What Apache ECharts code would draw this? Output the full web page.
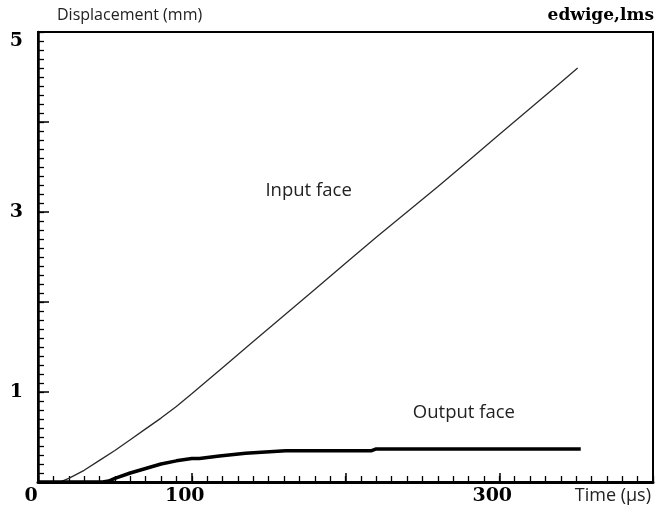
<!DOCTYPE html>
<html>
<head>
<meta charset="utf-8">
<script src="https://cdn.jsdelivr.net/npm/echarts@6/dist/echarts.min.js"></script>
<style>
  html, body { margin: 0; padding: 0; background: #fff; }
  #main { width: 656px; height: 512px; }
</style>
</head>
<body>
<div id="main"></div>
<script>
// time in µs
const timeInput = [0, 10, 15, 20, 30, 40, 50, 60, 70, 80, 90, 100, 120, 140, 160, 180, 200, 220, 240, 260, 280, 300, 320, 340, 351];
const dispInput = [0, 0, 0.005, 0.04, 0.13, 0.24, 0.35, 0.47, 0.59, 0.71, 0.84, 0.98, 1.27, 1.56, 1.85, 2.14, 2.43, 2.72, 3.0, 3.28, 3.57, 3.86, 4.15, 4.44, 4.6];

const timeOutput = [0, 42, 46, 50, 60, 70, 80, 90, 100, 105, 118, 135, 161, 217, 220, 353];
const dispOutput = [0, 0, 0.01, 0.04, 0.1, 0.15, 0.2, 0.235, 0.26, 0.26, 0.29, 0.32, 0.348, 0.348, 0.367, 0.367];

const xLabels = [0, 100, 300];
const yLabels = [1, 3, 5];

const serif = "'DejaVu Serif', serif";
const sans = "'Open Sans', 'Noto Sans', sans-serif";

const isIn = (list, v) => list.some((k) => Math.abs(k - v) < 1e-6);

const myChart = echarts.init(document.getElementById('main'));

// long ticks drawn by a second axis on the same side
const majorX = {
  type: 'value', min: 0, max: 400, interval: 100, position: 'bottom', offset: 0,
  axisLine: { show: false },
  axisTick: { show: true, inside: true, length: 9, lineStyle: { color: '#000', width: 1.5 } },
  axisLabel: { show: false },
  splitLine: { show: false }
};
const majorY = {
  type: 'value', min: 0, max: 5, interval: 1, position: 'left', offset: 0,
  axisLine: { show: false },
  axisTick: { show: true, inside: true, length: 11, lineStyle: { color: '#000', width: 1.5 } },
  axisLabel: { show: false },
  splitLine: { show: false }
};

const option = {
  animation: false,
  backgroundColor: '#fff',
  grid: {
    left: 38,
    right: 1,
    top: 32,
    bottom: 30,
    show: true,
    borderColor: '#000',
    borderWidth: 2
  },
  graphic: [
    {
      type: 'text',
      x: 57,
      y: 15,
      style: { text: 'Displacement (mm)', font: "16px 'Open Sans', sans-serif", fill: '#222', align: 'left', verticalAlign: 'middle' }
    },
    {
      type: 'text',
      x: 654,
      y: 16,
      style: { text: 'edwige,lms', font: "bold 17px 'DejaVu Serif', serif", fill: '#000', align: 'right', verticalAlign: 'middle' }
    },
    {
      type: 'text',
      x: 651,
      y: 496,
      style: { text: 'Time (µs)', font: "18px 'Open Sans', sans-serif", fill: '#222', align: 'right', verticalAlign: 'middle' }
    }
  ],
  xAxis: [{
    type: 'value',
    min: 0,
    max: 400,
    interval: 10,
    position: 'bottom',
    axisLine: { show: true, lineStyle: { color: '#000', width: 3 } },
    axisTick: { show: true, inside: true, length: 6, lineStyle: { color: '#000', width: 1.3 } },
    splitLine: { show: false },
    axisLabel: {
      fontFamily: serif,
      fontWeight: 'bold',
      fontSize: 19,
      color: '#000',
      margin: 5,
      padding: [0, 14, 0, 0],
      formatter: (v) => isIn(xLabels, v) ? String(Math.round(v)) : ''
    }
  }, majorX],
  yAxis: [{
    type: 'value',
    min: 0,
    max: 5,
    interval: 0.1,
    position: 'left',
    axisLine: { show: true, lineStyle: { color: '#000', width: 2.5 } },
    axisTick: { show: true, inside: true, length: 6, lineStyle: { color: '#000', width: 1.3 } },
    splitLine: { show: false },
    axisLabel: {
      fontFamily: serif,
      fontWeight: 'bold',
      fontSize: 19,
      color: '#000',
      margin: 15,
      formatter: (v) => {
        if (!isIn(yLabels, v)) return '';
        const n = Math.round(v);
        return n === 5 ? '{top|5}' : String(n);
      },
      rich: {
        top: {
          fontFamily: serif,
          fontWeight: 'bold',
          fontSize: 19,
          color: '#000',
          padding: [18, 0, 0, 0]
        }
      }
    }
  }, majorY],
  series: [
    {
      name: 'Input face',
      type: 'line',
      data: timeInput.map((t, i) => [t, dispInput[i]]),
      showSymbol: false,
      lineStyle: { color: '#2a2a2a', width: 1.3 },
      markPoint: {
        symbol: 'circle',
        symbolSize: 0,
        label: { show: true, position: 'inside', formatter: 'Input face', fontFamily: sans, fontSize: 18.5, color: '#222' },
        data: [{ coord: [176, 3.24] }]
      }
    },
    {
      name: 'Output face',
      type: 'line',
      data: timeOutput.map((t, i) => [t, dispOutput[i]]),
      showSymbol: false,
      lineStyle: { color: '#000', width: 3.5 },
      markPoint: {
        symbol: 'circle',
        symbolSize: 0,
        label: { show: true, position: 'inside', formatter: 'Output face', fontFamily: sans, fontSize: 18.5, color: '#222' },
        data: [{ coord: [277, 0.77] }]
      }
    }
  ]
};

myChart.setOption(option);
</script>
</body>
</html>
